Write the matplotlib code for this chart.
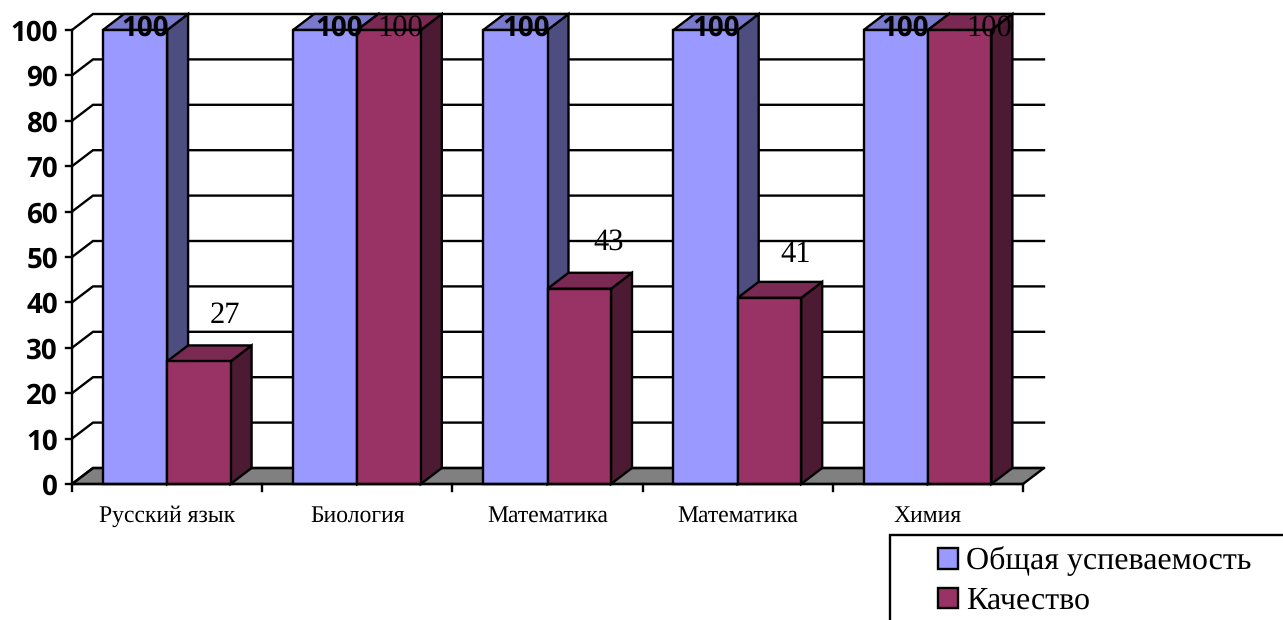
import matplotlib
matplotlib.use("Agg")
import matplotlib.pyplot as plt
from matplotlib.patches import Polygon, Rectangle

plt.rcParams["text.hinting"] = "no_hinting"

categories = ["Русский язык", "Биология", "Математика", "Математика", "Химия"]
overall = [100, 100, 100, 100, 100]
quality = [27, 100, 43, 41, 100]
series_names = ["Общая успеваемость", "Качество"]
yticks = list(range(0, 101, 10))

W, H = 1283, 620
PX_X, PX_Y = 190.2, 4.54
X0, Y0 = 72, 484
DX, DY = 21 / PX_X, 16 / PX_Y
BAR_W = 63.5 / PX_X
LW = 1.7
BLUE = ("#9999FF", "#7A7ACC", "#4D4D80")
MAROON = ("#993366", "#7A2952", "#4D1A33")

fig = plt.figure(figsize=(W / 100, H / 100), dpi=100, facecolor="white")
ax = fig.add_axes([0, 0, 1, 1])
ax.set_xlim(-X0 / PX_X, (W - X0) / PX_X)
ax.set_ylim((Y0 - H) / PX_Y, Y0 / PX_Y)
ax.axis("off")
n = len(categories)


def poly(pts, fc, z):
    ax.add_patch(Polygon(pts, closed=True, facecolor=fc, edgecolor="black",
                         linewidth=LW, joinstyle="miter", zorder=z))


# floor
poly([(0, 0), (n, 0), (n + DX, DY), (DX, DY)], "#808080", 1)

# walls
for v in yticks:
    ax.plot([0, DX, n + DX], [v, v + DY, v + DY], color="black", lw=LW, zorder=1,
            solid_joinstyle="miter")
    ax.plot([-6 / PX_X, 0], [v, v], color="black", lw=LW, zorder=1)
    ax.text(-14 / PX_X, v, str(v), ha="right", va="center_baseline", family="Open Sans",
            fontweight="bold", fontsize=20, color="black")
ax.plot([0, 0], [0, 100], color="black", lw=LW, zorder=1)
ax.plot([0, n], [0, 0], color="black", lw=LW, zorder=5)
for i in range(n + 1):
    ax.plot([i, i], [0, -7 / PX_Y], color="black", lw=LW, zorder=1)


def bar(x, v, cols, z, width):
    x1 = x + width
    poly([(x1, 0), (x1 + DX, DY), (x1 + DX, v + DY), (x1, v)], cols[2], z)
    poly([(x, v), (x + DX, v + DY), (x1 + DX, v + DY), (x1, v)], cols[1], z)
    poly([(x, 0), (x1, 0), (x1, v), (x, v)], cols[0], z)


for i in range(n):
    c = i + 0.5
    bar(c - BAR_W - 0.7 / PX_X, overall[i], BLUE, 2 + i * 0.1, BAR_W + 0.7 / PX_X)
    bar(c, quality[i], MAROON, 2.05 + i * 0.1, BAR_W)
    ax.text(c, -32 / PX_Y, categories[i], ha="center", va="center",
            family="Liberation Serif", fontsize=17, color="black")

# data labels (offsets in pixels from the top of each bar's centre)
off1 = [10, 13.5, 10, 10, 9]
off2 = [(26, 46), (11, 2), (29, 47), (26, 43), (30, 2)]
for i in range(n):
    c = i + 0.5
    ax.annotate(str(overall[i]), (c - BAR_W / 2, overall[i]), xytext=(off1[i] * 0.72, 2 * 0.72),
                textcoords="offset points", ha="center", va="center",
                family="Open Sans", fontweight="bold", fontsize=20, zorder=10)
    ax.annotate(str(quality[i]), (c + BAR_W / 2, quality[i]),
                xytext=(off2[i][0] * 0.72, off2[i][1] * 0.72),
                textcoords="offset points", ha="center", va="center",
                family="Liberation Serif", fontsize=22, zorder=10)

# legend box runs off the page
ax.add_patch(Rectangle((890 / PX_X - X0 / PX_X, (Y0 - 640) / PX_Y), 500 / PX_X, 105 / PX_Y,
                       facecolor="white", edgecolor="black", linewidth=LW, zorder=6))
handles = [Rectangle((0, 0), 1, 1, facecolor=BLUE[0], edgecolor="black", linewidth=LW),
           Rectangle((0, 0), 1, 1, facecolor=MAROON[0], edgecolor="black", linewidth=LW)]
leg = ax.legend(handles, series_names, loc="upper left", bbox_to_anchor=(938 / W, 1 - 546.5 / H),
                bbox_transform=fig.transFigure, frameon=False, borderpad=0.0, borderaxespad=0,
                prop={"family": "Liberation Serif", "size": 23}, handlelength=0.62, handleheight=0.62,
                handletextpad=0.25, labelspacing=0.34)
leg.set_zorder(7)

fig.savefig("out.png", dpi=100)
